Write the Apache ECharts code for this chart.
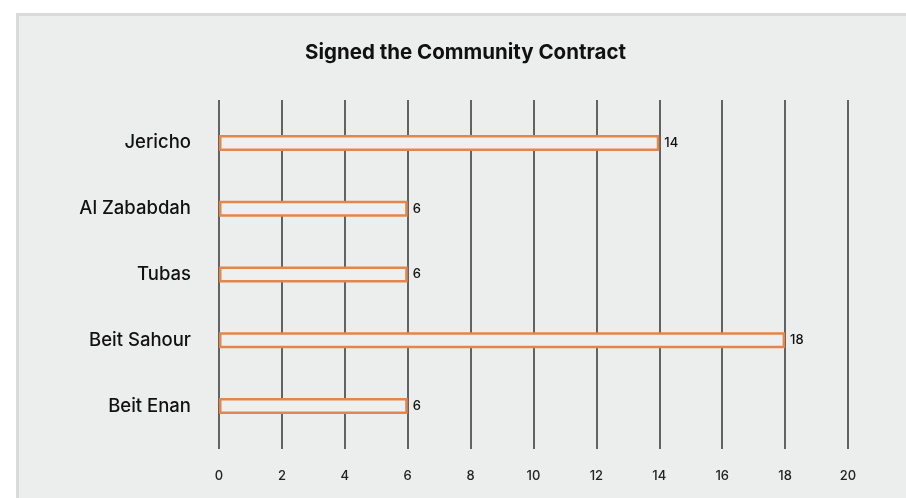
<!DOCTYPE html>
<html><head><meta charset="utf-8">
<script src="https://cdn.jsdelivr.net/npm/echarts@6/dist/echarts.min.js"></script>
<style>html,body{margin:0;padding:0;background:#fff;}#c{width:906px;height:498px;}</style>
</head><body><div id="c"></div>
<script>
const categories = ["Jericho", "Al Zababdah", "Tubas", "Beit Sahour", "Beit Enan"];
const values = [14, 6, 6, 18, 6];
const titleText = "Signed the Community Contract";
const xMin = 0, xMax = 20, xInterval = 2;

const chart = echarts.init(document.getElementById('c'), null, {renderer: 'canvas'});
const font = 'Inter, "Noto Sans", "DejaVu Sans", sans-serif';
chart.setOption({
  animation: false,
  backgroundColor: '#ffffff',
  graphic: [
    {type: 'rect', left: 16, top: 13, shape: {width: 900, height: 500}, style: {fill: '#eceeed'}, z: -10},
    {type: 'rect', left: 16, top: 13, shape: {width: 900, height: 3}, style: {fill: '#dadada'}, z: -9},
    {type: 'rect', left: 16, top: 13, shape: {width: 3, height: 500}, style: {fill: '#dadada'}, z: -9}
  ],
  title: {
    text: titleText, left: 300, top: 37,
    textStyle: {fontFamily: font, fontWeight: 'bold', fontSize: 20.5, color: '#111'}
  },
  grid: [
    {left: 219, right: 58, top: 100, height: 349},
    {left: 219, right: 58, top: 110, height: 329}
  ],
  xAxis: [
    {type: 'value', gridIndex: 0, min: xMin, max: xMax, interval: xInterval,
     axisLine: {show: false}, axisTick: {show: false},
     splitLine: {show: true, lineStyle: {color: '#333', width: 1.5}},
     axisLabel: {fontFamily: font, fontSize: 13, fontWeight: 500, color: '#222', margin: 21}},
    {type: 'value', gridIndex: 1, min: xMin, max: xMax, interval: xInterval, show: false,
     splitLine: {show: false}}
  ],
  yAxis: [
    {type: 'category', gridIndex: 0, data: [], show: false},
    {type: 'category', gridIndex: 1, data: categories, inverse: true,
     axisLine: {show: false}, axisTick: {show: false}, splitLine: {show: false},
     axisLabel: {fontFamily: font, fontSize: 18.5, fontWeight: 500, color: '#111', margin: 28}}
  ],
  series: [{
    type: 'bar', xAxisIndex: 1, yAxisIndex: 1, data: values, barWidth: 16,
    itemStyle: {color: '#eef0ef', borderColor: '#e2864d', borderWidth: 2.5},
    label: {show: true, position: 'right', distance: 5, fontFamily: font, fontSize: 13, fontWeight: 500, color: '#111'}
  }]
});
</script></body></html>
